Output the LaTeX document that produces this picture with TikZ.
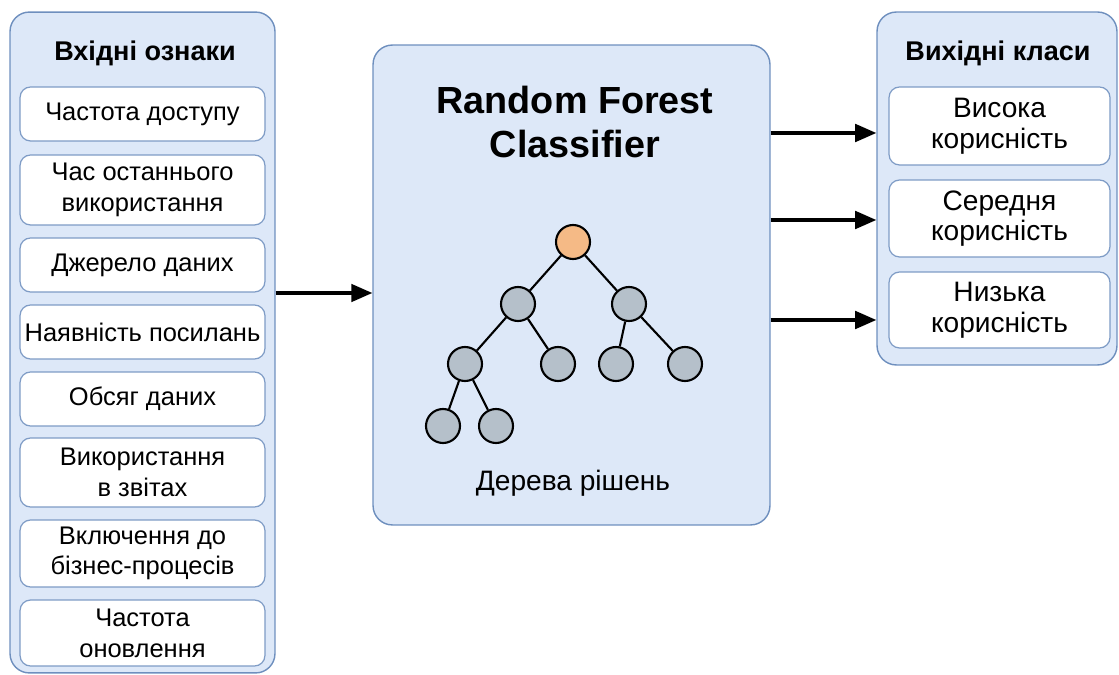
\documentclass[tikz,border=0pt]{standalone}
\usepackage{fontspec}
\setmainfont{Liberation Sans}
\usepackage{xcolor}
\usetikzlibrary{positioning,arrows.meta}

\definecolor{panelfill}{HTML}{DDE8F8}
\definecolor{panelline}{HTML}{6E8FBE}
\definecolor{itemline}{HTML}{7F9CC6}
\definecolor{rootfill}{HTML}{F5BA86}
\definecolor{leaffill}{HTML}{B5C0CA}

\tikzset{
  panel/.style={draw=panelline, fill=panelfill, rounded corners=11pt, line width=0.8pt, inner sep=0pt},
  item/.style={draw=itemline, fill=white, rounded corners=6pt, line width=0.7pt, align=center,
    inner sep=0pt, font=\fontsize{14.5}{17.5}\selectfont},
  heading/.style={font=\bfseries\fontsize{15.4}{18}\selectfont},
  tnode/.style={circle, draw=black, line width=1.2pt, minimum size=0.68cm, inner sep=0pt, fill=leaffill},
  flow/.style={line width=1.8pt, -{Triangle[length=12pt,width=10pt]}}
}

\begin{document}
\begin{tikzpicture}[x=0.02cm, y=-0.02cm]
  \useasboundingbox (0,0) rectangle (1119,675);

  % Panels
  \node[panel, minimum width=5.3cm, minimum height=13.22cm] (inputs) at (142.5,342.5) {};
  \node[panel, minimum width=7.94cm, minimum height=9.6cm] (forest) at (571.5,285) {};
  \node[panel, minimum width=4.8cm, minimum height=7.06cm] (outputs) at (997,188.5) {};

  % Input features
  \node[heading] (inhead) at (145,53) {Вхідні ознаки};
  \foreach \cy/\h/\txt [count=\i] in {
      114/1.08/{Частота доступу},
      190/1.40/{Час останнього\\використання},
      265/1.08/{Джерело даних},
      332/1.08/{Наявність посилань},
      399/1.08/{Обсяг даних},
      472.5/1.38/{Використання\\в звітах},
      553.5/1.34/{Включення до\\бізнес-процесів},
      633/1.32/{Частота\\оновлення}} {
    \node[item, minimum width=4.9cm, minimum height=\h cm] (feat\i) at (142.5,\cy) {\txt};
  }

  % Classifier
  \node[font=\bfseries\fontsize{21.5}{25.5}\selectfont, align=center] (rftitle) at (575,122) {Random Forest\\Classifier};
  \node[tnode, fill=rootfill] (t0) at (573,242) {};
  \node[tnode] (t1) at (518,304) {};
  \node[tnode] (t2) at (629,304) {};
  \node[tnode] (t11) at (465,364) {};
  \node[tnode] (t12) at (558,364) {};
  \node[tnode] (t21) at (616,364) {};
  \node[tnode] (t22) at (685,364) {};
  \node[tnode] (t111) at (443,426) {};
  \node[tnode] (t112) at (496,426) {};
  \foreach \a/\b in {t0/t1, t0/t2, t1/t11, t1/t12, t2/t21, t2/t22, t11/t111, t11/t112}
    \draw[line width=1.2pt] (\a) -- (\b);
  \node[font=\fontsize{16}{19}\selectfont] (treelabel) at (573,483) {Дерева рішень};

  % Output classes
  \node[heading] (outhead) at (998,53) {Вихідні класи};
  \foreach \cy/\h/\txt [count=\i] in {
      126/1.56/{Висока\\корисність},
      218.5/1.54/{Середня\\корисність},
      310/1.52/{Низька\\корисність}} {
    \node[item, font=\fontsize{16}{17.5}\selectfont, minimum width=4.42cm, minimum height=\h cm] (cls\i) at (999.5,\cy) {\txt};
  }

  % Arrows
  \draw[flow] (inputs.east |- 0,293) -- (forest.west |- 0,293);
  \foreach \y in {133,220,320}
    \draw[flow] (forest.east |- 0,\y) -- (outputs.west |- 0,\y);
\end{tikzpicture}
\end{document}
